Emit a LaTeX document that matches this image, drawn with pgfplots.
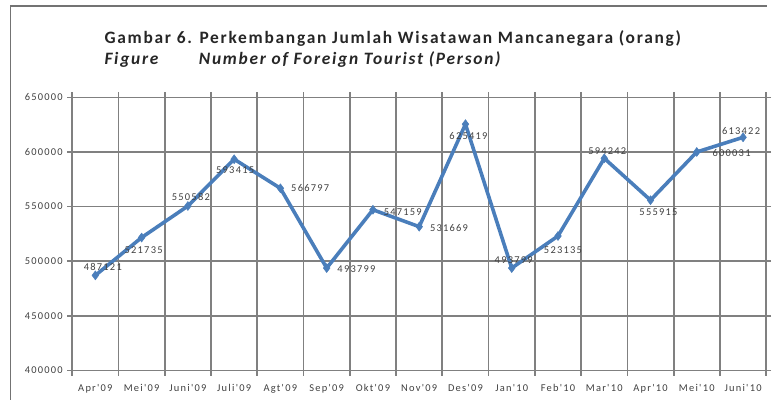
\documentclass[border=0pt]{standalone}
\usepackage{fontspec}
\setmainfont{Carlito}
\newfontfamily\titlefont{Carlito}[LetterSpace=10]
\newfontfamily\labfont{Carlito}[LetterSpace=12]
\newfontfamily\tickfont{Carlito}[LetterSpace=12]
\usepackage{pgfplots}
\usepackage{pgfplotstable}
\pgfplotsset{compat=1.18}
\definecolor{tblue}{RGB}{74,126,187}
\definecolor{gridgray}{RGB}{128,128,128}
\definecolor{txt}{RGB}{64,64,64}
\pgfplotstableread{
x y lab dx dy
0 487121 487121 7.5 8
1 521735 521735 2 -13
2 550582 550582 3 9
3 593415 593415 1 -11
4 566797 566797 30 0
5 493799 493799 30 -1
6 547159 547159 30 -2
7 531669 531669 30 -1
8 625419 625419 3 -12
9 493799 493799 2 7.5
10 523135 523135 5 -14
11 594242 594242 3 7
12 555915 555915 8 -12
13 600031 600031 35 -1
14 613422 613422 -2 6
}\data
\begin{document}
\begin{tikzpicture}[x=1pt,y=1pt]
\path (0,0) rectangle (772,403);
\draw[color=black!55, line width=1.8pt] (772,397) -- (10.5,397) -- (10.5,0);
\node[anchor=base west, inner sep=0, font=\titlefont\bfseries\fontsize{17.5}{18}\selectfont, text=black!85] at (105,359) {Gambar 6. Perkembangan Jumlah Wisatawan Mancanegara (orang)};
\node[anchor=base west, inner sep=0, font=\titlefont\bfseries\itshape\fontsize{17.5}{18}\selectfont, text=black!85] at (105,338) {Figure};
\node[anchor=base west, inner sep=0, font=\titlefont\bfseries\itshape\fontsize{17.5}{18}\selectfont, text=black!85] at (200,338) {Number of Foreign Tourist (Person)};
\begin{axis}[
  at={(72.7pt,30pt)}, anchor=south west,
  scale only axis, width=698.5pt, height=275pt,
  xmin=-0.5, xmax=14.5, ymin=400000, ymax=650000,
  ytick={400000,450000,...,650000},
  xtick={0,...,14},
  xticklabels={Apr'09,Mei'09,Juni'09,Juli'09,Agt'09,Sep'09,Okt'09,Nov'09,Des'09,Jan'10,Feb'10,Mar'10,Apr'10,Mei'10,Juni'10},
  minor xtick={-0.5,0.5,...,14.5},
  xminorgrids=true, ymajorgrids=true,
  grid style={draw=gridgray, line width=1.7pt},
  minor grid style={draw=gridgray, line width=1.7pt},
  axis line style={draw=gridgray, line width=1.7pt},
  tick align=outside,
  major tick length=5pt, minor tick length=5pt,
  tick style={draw=gridgray, line width=1.7pt},
  major x tick style={draw=none},
  scaled y ticks=false,
  /pgf/number format/.cd, fixed, 1000 sep={}, assume math mode=true,
  /pgfplots/.cd,
  y tick label style={font=\tickfont\fontsize{10.5}{11}\selectfont, text=txt, xshift=-1pt},
  x tick label style={font=\tickfont\fontsize{10.5}{11}\selectfont, text=txt, yshift=-5pt},
  clip=false,
]
\addplot[draw=none, mark=none,
  point meta=explicit symbolic,
  visualization depends on={\thisrow{dx}\as\dx},
  visualization depends on={\thisrow{dy}\as\dy},
  nodes near coords,
  every node near coord/.append style={anchor=center, inner sep=0pt, xshift=\dx pt, yshift=\dy pt, font=\labfont\fontsize{10.5}{11}\selectfont, text=txt},
] table[x=x, y=y, meta=lab] {\data};
\addplot[color=tblue, line width=3.6pt, mark=diamond*, mark size=4.5pt, mark options={solid, fill=tblue, draw=tblue, line width=0.5pt}] table[x=x, y=y] {\data};
\end{axis}
\end{tikzpicture}
\end{document}
